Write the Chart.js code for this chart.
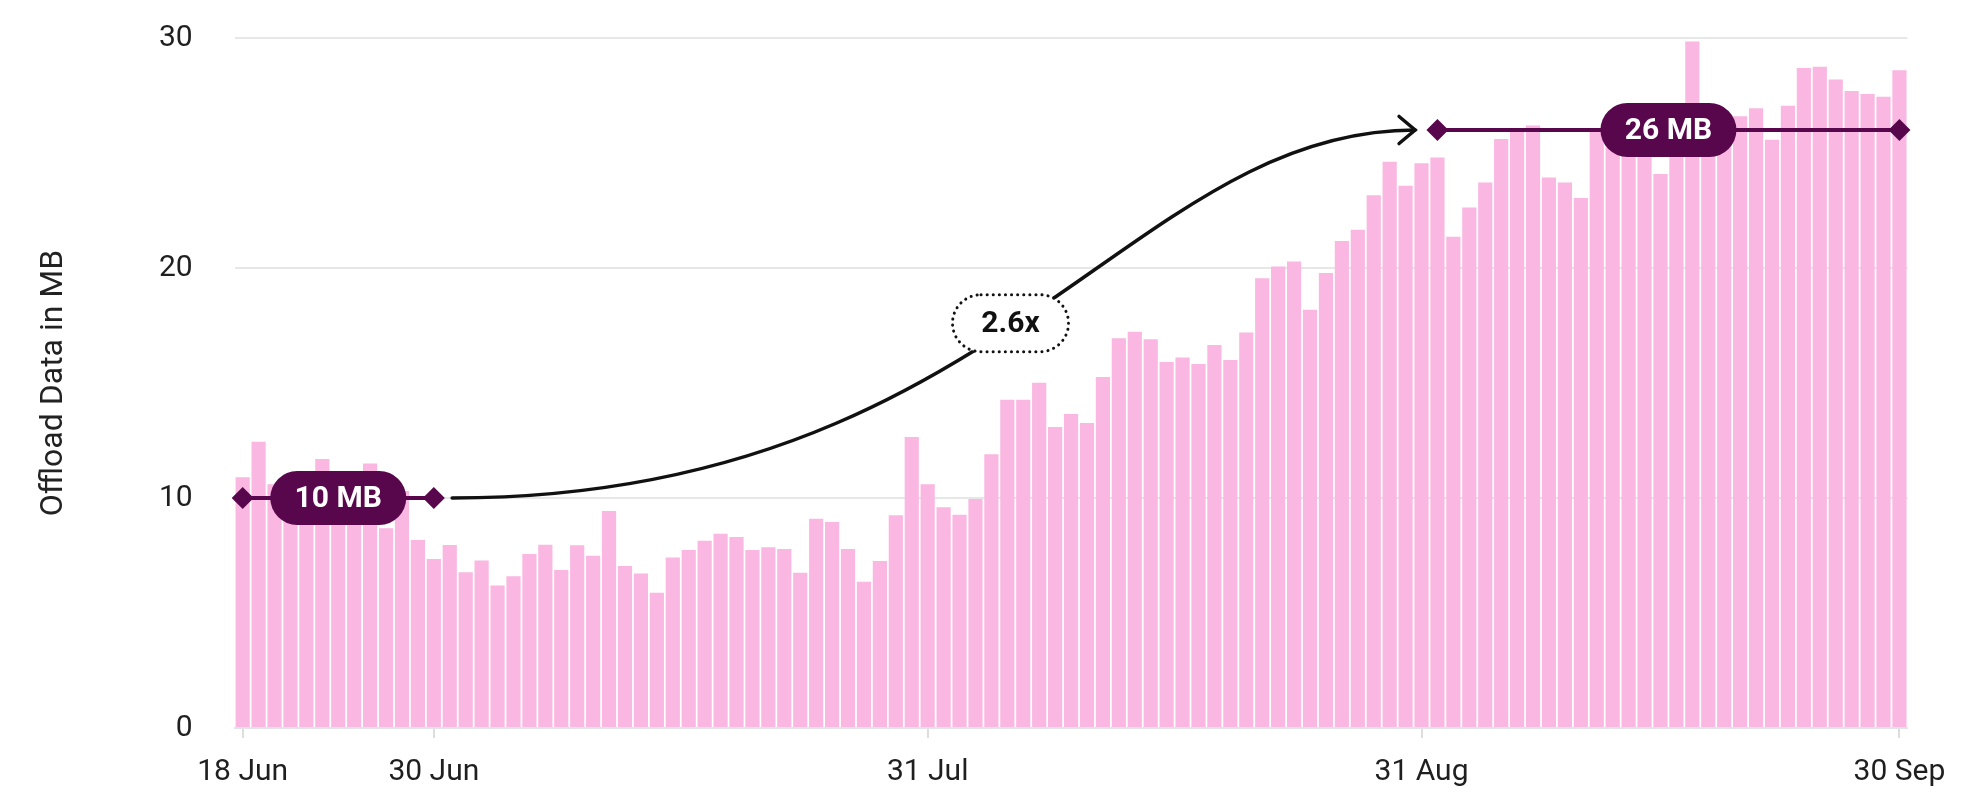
<!DOCTYPE html>
<html>
<head>
<meta charset="utf-8">
<script src="https://cdn.jsdelivr.net/npm/chart.js@4.4.1/dist/chart.umd.min.js"></script>
<style>
  html, body { margin: 0; padding: 0; background: #ffffff; }
  #wrap { width: 1983px; height: 792px; position: relative; }
</style>
</head>
<body>
<div id="wrap"><canvas id="offload-chart"></canvas></div>
<script>
// daily offload in MB, 18 Jun .. 30 Sep
let offload = [
  10.9, 12.45, 10.6, 11.0, 10.4, 11.7, 10.8, 10.9, 11.5, 8.68,
  10.3, 8.17, 7.35, 7.96, 6.77, 7.28, 6.2, 6.6, 7.57, 7.97,
  6.87, 7.95, 7.49, 9.43, 7.04, 6.72, 5.88, 7.41, 7.74, 8.14,
  8.45, 8.3, 7.74, 7.86, 7.78, 6.75, 9.1, 8.96, 7.78, 6.36,
  7.26, 9.25, 12.65, 10.6, 9.6, 9.27, 9.96, 11.9, 14.27, 14.27,
  15.01, 13.09, 13.65, 13.26, 15.26, 16.95, 17.23, 16.9, 15.91, 16.11,
  15.83, 16.65, 16.0, 17.2, 19.55, 20.06, 20.28, 18.18, 19.78, 21.17,
  21.66, 23.16, 24.62, 23.58, 24.55, 24.8, 21.36, 22.63, 23.72, 25.61,
  26.0, 26.2, 23.93, 23.72, 23.04, 26.0, 26.5, 26.2, 26.4, 24.09,
  25.6, 29.85, 26.3, 26.1, 26.6, 26.95, 25.58, 27.05, 28.7, 28.75,
  28.2, 27.7, 27.56, 27.45, 28.6
];

const month_names = ["Jan", "Feb", "Mar", "Apr", "May", "Jun", "Jul", "Aug", "Sep", "Oct", "Nov", "Dec"];
const first_day = Date.UTC(2024, 5, 18);
let days = offload.map(function(v, i) {
  let d = new Date(first_day + i * 86400000);
  return d.getUTCDate() + " " + month_names[d.getUTCMonth()];
});

const tick_days = ["18 Jun", "30 Jun", "31 Jul", "31 Aug", "30 Sep"];
const y_ticks = [0, 10, 20, 30];

// averages marked on the chart: [from day, to day, MB, label]
const brackets = [
  ["18 Jun", "30 Jun", 10, "10 MB"],
  ["1 Sep", "30 Sep", 26, "26 MB"],
];
// growth arrow, in [day index, MB]
const arrow_path = [[13.15, 10], [47.5, 10], [55.5, 26], [73.6, 26]];
const growth_label = ["2.6x", 48.2, 17.6];

const plum = "#58074c";
const pink = "#f9b7e2";

function pill(ctx, cx, cy, w, h) {
  let r = h / 2;
  ctx.beginPath();
  ctx.moveTo(cx - w / 2 + r, cy - h / 2);
  ctx.lineTo(cx + w / 2 - r, cy - h / 2);
  ctx.arc(cx + w / 2 - r, cy, r, -Math.PI / 2, Math.PI / 2);
  ctx.lineTo(cx - w / 2 + r, cy + h / 2);
  ctx.arc(cx - w / 2 + r, cy, r, Math.PI / 2, Math.PI * 1.5);
  ctx.closePath();
}

function diamond(ctx, cx, cy, s) {
  ctx.beginPath();
  ctx.moveTo(cx, cy - s);
  ctx.lineTo(cx + s, cy);
  ctx.lineTo(cx, cy + s);
  ctx.lineTo(cx - s, cy);
  ctx.closePath();
  ctx.fill();
}

const annotate = {
  id: "annotate",
  afterDatasetsDraw(chart) {
    const ctx = chart.ctx;
    const xs = chart.scales.x, ys = chart.scales.y;
    const px = function(v) { return xs.getPixelForValue(typeof v === "string" ? days.indexOf(v) : v); };
    const py = function(v) { return ys.getPixelForValue(v); };
    ctx.save();

    // curved growth arrow
    let p = arrow_path.map(function(a) { return [px(a[0]), py(a[1])]; });
    ctx.strokeStyle = "#111111";
    ctx.lineWidth = 3.5;
    ctx.lineCap = "round";
    ctx.beginPath();
    ctx.moveTo(p[0][0], p[0][1]);
    ctx.bezierCurveTo(p[1][0], p[1][1], p[2][0], p[2][1], p[3][0], p[3][1]);
    ctx.stroke();
    let tip = p[3];
    let ang = Math.atan2(p[3][1] - p[2][1], p[3][0] - p[2][0]);
    ctx.beginPath();
    ctx.moveTo(tip[0] - 21 * Math.cos(ang - 0.7), tip[1] - 21 * Math.sin(ang - 0.7));
    ctx.lineTo(tip[0], tip[1]);
    ctx.lineTo(tip[0] - 21 * Math.cos(ang + 0.7), tip[1] - 21 * Math.sin(ang + 0.7));
    ctx.stroke();

    // dotted growth bubble
    let gx = px(growth_label[1]), gy = py(growth_label[2]);
    pill(ctx, gx, gy, 116, 57);
    ctx.fillStyle = "#ffffff";
    ctx.fill();
    ctx.setLineDash([0.1, 6]);
    ctx.lineWidth = 3;
    ctx.stroke();
    ctx.setLineDash([]);
    ctx.fillStyle = "#111111";
    ctx.font = "bold 30px Roboto";
    ctx.textAlign = "center";
    ctx.textBaseline = "middle";
    ctx.fillText(growth_label[0], gx, gy + 1);

    // average brackets
    brackets.forEach(function(b) {
      let x0 = px(b[0]), x1 = px(b[1]), yy = py(b[2]);
      ctx.strokeStyle = plum;
      ctx.fillStyle = plum;
      ctx.lineWidth = 4;
      ctx.beginPath();
      ctx.moveTo(x0, yy);
      ctx.lineTo(x1, yy);
      ctx.stroke();
      diamond(ctx, x0, yy, 11);
      diamond(ctx, x1, yy, 11);
      let mx = (x0 + x1) / 2;
      pill(ctx, mx, yy, 136, 54);
      ctx.fill();
      ctx.fillStyle = "#ffffff";
      ctx.font = "bold 30px Roboto";
      ctx.fillText(b[3], mx, yy + 1);
    });
    ctx.restore();
  }
};

let canvas = document.querySelector("#offload-chart");
let offload_chart = new Chart(canvas, {
  type: "bar",
  data: {
    labels: days,
    datasets: [{
      data: offload,
      backgroundColor: pink,
      borderWidth: 0,
      barPercentage: 0.89,
      categoryPercentage: 1.0,
    }]
  },
  options: {
    responsive: true,
    maintainAspectRatio: false,
    animation: false,
    layout: { padding: { top: 38, right: 75.6, bottom: 0, left: 0 } },
    plugins: {
      legend: { display: false },
      tooltip: { enabled: false },
    },
    scales: {
      x: {
        afterFit: function(scale) { scale.height = 64; },
        border: { display: true, color: "#e1e4e8", width: 2 },
        grid: {
          offset: false,
          drawOnChartArea: false,
          drawTicks: true,
          tickLength: 10,
          lineWidth: 2,
          color: function(c) { return tick_days.includes(days[c.index]) ? "#dddddd" : "rgba(0,0,0,0)"; },
        },
        ticks: {
          autoSkip: false,
          maxRotation: 0,
          padding: 16,
          color: "#1f1f1f",
          font: { family: "Roboto", size: 30 },
          callback: function(v, i) { return tick_days.includes(days[i]) ? days[i] : ""; },
        },
      },
      y: {
        min: 0,
        max: 30,
        afterFit: function(scale) {
          scale.width = 234.7;
          scale.paddingTop = 18;
          scale.paddingBottom = 18;
        },
        afterBuildTicks: function(scale) { scale.ticks = y_ticks.map(function(v) { return { value: v }; }); },
        border: { display: false },
        grid: { color: "#e7e7e7", lineWidth: 2, drawTicks: false },
        ticks: {
          padding: 42,
          color: "#1f1f1f",
          font: { family: "Roboto", size: 30 },
        },
        title: {
          display: true,
          text: "Offload Data in MB",
          color: "#222222",
          font: { family: "Roboto", size: 32 },
          padding: { top: 35, bottom: 0 },
        },
      },
    },
  },
  plugins: [annotate],
});
</script>
</body>
</html>
